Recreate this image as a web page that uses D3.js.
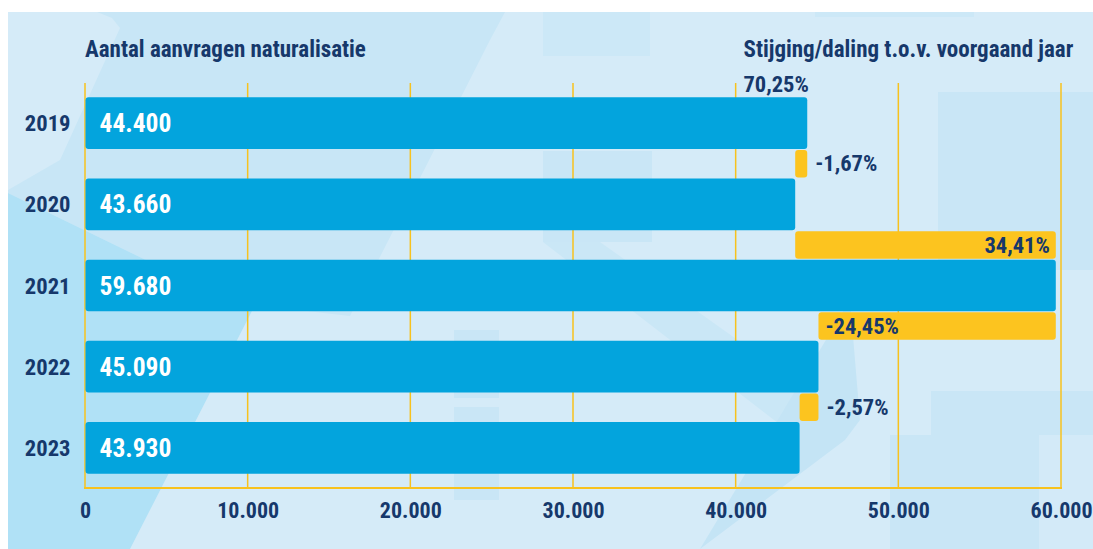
<!DOCTYPE html>
<html>
<head>
<meta charset="utf-8">
<script src="https://cdn.jsdelivr.net/npm/d3@7"></script>
<style>
  html, body { margin: 0; padding: 0; background: #ffffff; }
  svg { display: block; }
  text { font-family: "Roboto Condensed", Roboto, sans-serif; font-weight: 700; }
</style>
</head>
<body>
<svg id="chart" width="1093" height="549"></svg>
<script>
// ---- data ----
const years = ["2019", "2020", "2021", "2022", "2023"];
const requests = [44400, 43660, 59680, 45090, 43930];
const changes = [70.25, -1.67, 34.41, -24.45, -2.57];
const xTicks = [0, 10000, 20000, 30000, 40000, 50000, 60000];
const titleLeft = "Aantal aanvragen naturalisatie";
const titleRight = "Stijging/daling t.o.v. voorgaand jaar";

// ---- style ----
const NAVY = "#16386b", BLUE = "#03a4dd", YELLOW = "#fcc41f", GRID = "#f7c21e";

const nl = d3.formatLocale({ decimal: ",", thousands: ".", grouping: [3], currency: ["", ""], minus: "-" });
const fmtInt = nl.format(",d");
const fmtPct = nl.format(".2f");

const svg = d3.select("#chart");

// ---- background decoration ----
const bg = svg.append("g");
bg.append("rect").attr("x", 8).attr("y", 12).attr("width", 1085).attr("height", 537).attr("fill", "#d5ebf8");
const deco = [
  { f: "#c8e6f6", p: [[97,12],[505,12],[490,40],[350,316],[255,305],[150,262],[8,193],[8,190],[60,160],[120,28],[112,18]] },
  { f: "#b0e1f6", p: [[8,193],[150,262],[255,305],[130,549],[8,549]] },
  { f: "#cae7f6", p: [[543,242],[600,242],[850,420],[841,438],[800,440]] },
  { f: "#c4e4f5", p: [[683,549],[700,549],[850,300],[860,420],[845,440],[700,549]] },
  { f: "#cce8f7", p: [[543,12],[650,12],[650,56],[543,56]] },
  { f: "#c9e6f6", p: [[543,151],[652,151],[652,242],[543,242]] },
  { f: "#c9e6f6", p: [[938,92],[1093,92],[1093,270],[938,270]] },
  { f: "#c9e6f6", p: [[931,391],[1093,391],[1093,549],[931,549]] },
  { f: "#c9e6f6", p: [[890,435],[931,435],[931,549],[890,549]] },
  { f: "#d3eaf8", p: [[1039,435],[1093,435],[1093,549],[1039,549]] },
  { f: "#c9e6f6", p: [[454,407],[499,407],[499,500],[454,500]] },
  { f: "#c9e6f6", p: [[454,330],[499,330],[499,398],[454,398]] },
  { f: "#cce8f7", p: [[815,12],[974,12],[974,17],[815,17]] }
];
bg.selectAll("path.deco").data(deco).join("path")
  .attr("class", "deco")
  .attr("d", d => d3.line().curve(d3.curveLinearClosed)(d.p))
  .attr("fill", d => d.f);

// ---- scales ----
const x = d3.scaleLinear().domain([0, 60000]).range([85, 1061]);
const y = d3.scaleBand().domain(years).range([83, 488]).paddingInner(0.363).paddingOuter(0.175);
const bw = y.bandwidth();
const gap = y.step() - bw;

function label(parent, px, py, str, size, fill, anchor) {
  return parent.append("text").attr("x", px).attr("y", py)
    .attr("font-size", size).attr("fill", fill)
    .attr("text-anchor", anchor || "start").text(str);
}

// ---- grid + axis ----
const grid = svg.append("g");
grid.selectAll("line.grid").data(xTicks).join("line")
  .attr("class", "grid")
  .attr("x1", d => x(d)).attr("x2", d => x(d))
  .attr("y1", 83).attr("y2", 488)
  .attr("stroke", GRID).attr("stroke-width", 1.5);
grid.append("line").attr("x1", x(0) - 1).attr("x2", x(60000) + 1)
  .attr("y1", 488).attr("y2", 488).attr("stroke", GRID).attr("stroke-width", 2);

const axis = d3.axisBottom(x).tickValues(xTicks).tickFormat(d => d === 0 ? "0" : fmtInt(d)).tickSize(0).tickPadding(0);
const axG = svg.append("g").attr("transform", "translate(0,488)").call(axis);
axG.select(".domain").remove();
axG.selectAll(".tick text")
  .attr("dy", null).attr("y", 30)
  .attr("font-family", "Roboto Condensed, Roboto, sans-serif")
  .attr("font-weight", 700)
  .attr("font-size", 22).attr("fill", NAVY);

// ---- blue bars ----
const rows = years.map((yr, i) => ({ yr, v: requests[i], c: changes[i], prev: i > 0 ? requests[i - 1] : null }));
svg.append("g").selectAll("rect").data(rows).join("rect")
  .attr("x", x(0) + 0.5).attr("y", d => y(d.yr))
  .attr("width", d => x(d.v) - x(0) - 0.5).attr("height", bw)
  .attr("rx", 3).attr("fill", BLUE);

// ---- yellow change bars ----
const chg = rows.filter(d => d.prev !== null);
svg.append("g").selectAll("rect").data(chg).join("rect")
  .attr("x", d => x(Math.min(d.v, d.prev)))
  .attr("y", d => y(d.yr) - gap + 1)
  .attr("width", d => Math.abs(x(d.v) - x(d.prev)))
  .attr("height", gap - 2)
  .attr("rx", 3).attr("fill", YELLOW);

// ---- labels ----
const lab = svg.append("g");
rows.forEach(d => {
  const cy = y(d.yr) + bw / 2;
  label(lab, 99.5, cy + 9.2, fmtInt(d.v), 25.5, "#ffffff", "start");
  label(lab, 70.5, cy + 8.2, d.yr, 22.6, NAVY, "end");
});

chg.forEach(d => {
  const cy = y(d.yr) - gap / 2;
  const x0 = x(Math.min(d.v, d.prev)), x1 = x(Math.max(d.v, d.prev));
  const s = fmtPct(d.c) + "%";
  if (x1 - x0 > 100) {
    if (d.c >= 0) label(lab, x1 - 6, cy + 7.8, s, 22.5, NAVY, "end");
    else label(lab, x0 + 7, cy + 7.8, s, 22.5, NAVY, "start");
  } else {
    label(lab, x1 + 8, cy + 7.8, s, 22.5, NAVY, "start");
  }
});

// first year's change, shown above the first bar
label(lab, 743.5, 91.5, fmtPct(rows[0].c) + "%", 22.5, NAVY, "start");

// ---- titles ----
label(svg, 85, 57, titleLeft, 23, NAVY, "start");
label(svg, 743.5, 57, titleRight, 23, NAVY, "start");
</script>
</body>
</html>
